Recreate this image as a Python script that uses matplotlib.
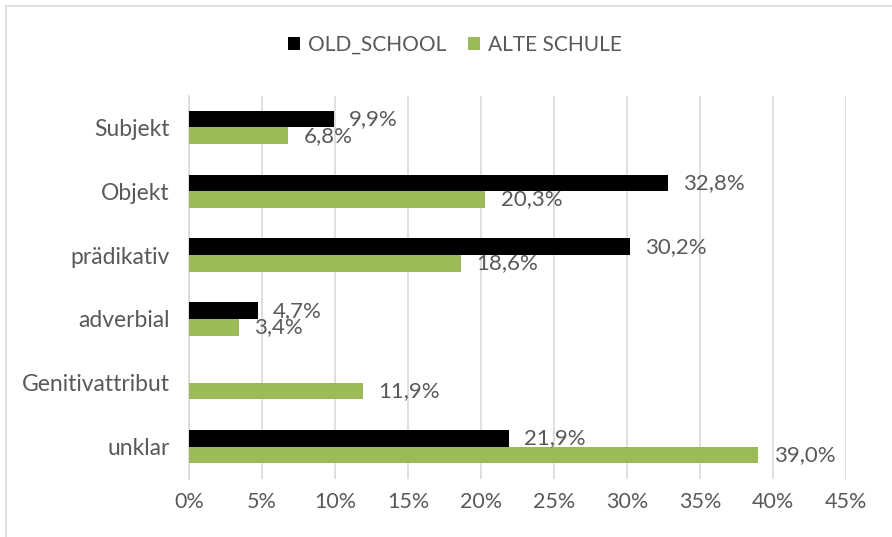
import matplotlib.pyplot as plt
import numpy as np
from matplotlib.patches import Rectangle

categories = ["Subjekt", "Objekt", "prädikativ", "adverbial", "Genitivattribut", "unklar"]
old_school = [9.9, 32.8, 30.2, 4.7, None, 21.9]
alte_schule = [6.8, 20.3, 18.6, 3.4, 11.9, 39.0]
xticks = [0, 5, 10, 15, 20, 25, 30, 35, 40, 45]

TEXT = "#595959"
GRID = "#d9d9d9"
GREEN = "#9bbb59"

plt.rcParams["font.family"] = ["Lato", "DejaVu Sans"]

fig = plt.figure(figsize=(8.92, 5.37), dpi=100)
ax = fig.add_axes([189 / 892, 1 - 478.5 / 537, (846 - 189) / 892, (478.5 - 95.5) / 537])

y = np.arange(len(categories), dtype=float)
h = 0.26
old_vals = [v if v is not None else 0 for v in old_school]
ax.barh(y - h / 2, old_vals, height=h, color="black", label="OLD_SCHOOL", zorder=3)
ax.barh(y + h / 2, alte_schule, height=h, color=GREEN, label="ALTE SCHULE", zorder=3)

# data labels, comma as decimal separator
for yi, v in zip(y, old_school):
    if v is None:
        continue
    ax.annotate(f"{v:.1f}%".replace(".", ","), (v, yi - h / 2), xytext=(11, 0),
                textcoords="offset points", va="center", ha="left",
                fontsize=16, color=TEXT, zorder=4)
for yi, v in zip(y, alte_schule):
    ax.annotate(f"{v:.1f}%".replace(".", ","), (v, yi + h / 2), xytext=(11, 0),
                textcoords="offset points", va="center", ha="left",
                fontsize=16, color=TEXT, zorder=4)

ax.set_xlim(0, 45)
ax.set_ylim(len(categories) - 0.5, -0.5)
ax.set_yticks(y, categories)
ax.set_xticks(xticks, [f"{t}%" for t in xticks])
ax.tick_params(axis="both", length=0, colors=TEXT)
ax.tick_params(axis="y", pad=14, labelsize=16.5)
ax.tick_params(axis="x", pad=10, labelsize=15.5)
ax.grid(axis="x", color=GRID, linewidth=1.2, zorder=0)
for side in ["top", "right", "bottom"]:
    ax.spines[side].set_visible(False)
ax.spines["left"].set_color(GRID)
ax.spines["left"].set_linewidth(1.2)

fig.legend(loc="center", bbox_to_anchor=(455 / 892, 1 - 45 / 537), ncol=2, frameon=False,
           fontsize=15, labelcolor=TEXT, handlelength=0.6, handleheight=0.6,
           columnspacing=1.0, handletextpad=0.4)

fig.patches.append(Rectangle((5.5 / 892, -0.1), 2, 1 - 5.5 / 537 + 0.1,
                             transform=fig.transFigure, fill=False,
                             edgecolor=GRID, linewidth=1.2))

fig.savefig("out.png", dpi=100)
